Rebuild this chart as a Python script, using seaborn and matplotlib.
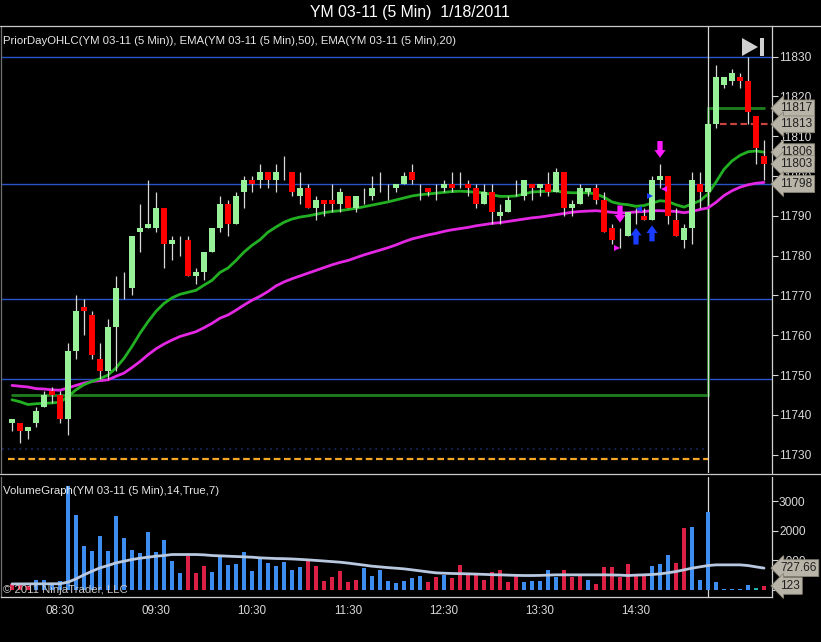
import numpy as np
import pandas as pd
import matplotlib
matplotlib.use("Agg")
import matplotlib.pyplot as plt
import matplotlib.transforms as mtransforms
from matplotlib.patches import Polygon, Rectangle
from matplotlib.lines import Line2D
import seaborn as sns

# ---------------- data ----------------
opens = [11738, 11738, 11736, 11738, 11742, 11746, 11745, 11739, 11756, 11767,
         11765, 11754, 11751, 11762, 11772, 11772, 11786, 11787, 11787, 11792,
         11783, 11784, 11784, 11775, 11776, 11781, 11787, 11793, 11788, 11796,
         11799, 11799, 11801, 11799, 11800, 11801, 11795, 11797, 11792, 11794,
         11794, 11793, 11795, 11792, 11795, 11795, 11797, 11796, 11797, 11798,
         11801, 11797, 11797, 11797, 11797, 11798, 11798, 11798, 11797, 11793,
         11796, 11790, 11791, 11797, 11795, 11798, 11797, 11798, 11796, 11801,
         11792, 11793, 11796, 11797, 11794, 11787, 11785, 11785, 11791, 11790,
         11789, 11799, 11800, 11789, 11784, 11787, 11798, 11796, 11813, 11823,
         11824, 11825, 11824, 11815, 11805]
highs = [11739, 11738, 11737, 11742, 11746, 11747, 11746, 11758, 11770, 11769,
         11766, 11758, 11764, 11775, 11776, 11785, 11793, 11799, 11796, 11792,
         11785, 11785, 11785, 11777, 11781, 11787, 11795, 11794, 11796, 11800,
         11800, 11803, 11801, 11803, 11805, 11801, 11801, 11798, 11795, 11794,
         11798, 11797, 11795, 11795, 11797, 11800, 11801, 11798, 11798, 11801,
         11803, 11798, 11797, 11798, 11799, 11801, 11801, 11799, 11798, 11798,
         11798, 11793, 11795, 11799, 11799, 11798, 11798, 11801, 11802, 11801,
         11794, 11798, 11797, 11798, 11796, 11788, 11787, 11791, 11792, 11792,
         11800, 11803, 11800, 11792, 11788, 11801, 11801, 11814, 11828, 11825,
         11827, 11826, 11830, 11815, 11809]
lows = [11736, 11733, 11734, 11737, 11742, 11743, 11738, 11735, 11754, 11760,
        11754, 11749, 11749, 11751, 11769, 11770, 11781, 11787, 11786, 11777,
        11779, 11780, 11775, 11773, 11774, 11781, 11786, 11785, 11788, 11792,
        11796, 11797, 11797, 11796, 11799, 11795, 11793, 11792, 11789, 11790,
        11791, 11791, 11792, 11791, 11793, 11794, 11796, 11794, 11796, 11798,
        11798, 11794, 11795, 11794, 11796, 11796, 11797, 11795, 11792, 11793,
        11788, 11788, 11791, 11795, 11794, 11794, 11795, 11795, 11796, 11790,
        11790, 11793, 11795, 11793, 11786, 11783, 11782, 11785, 11788, 11789,
        11789, 11797, 11788, 11785, 11782, 11783, 11792, 11795, 11812, 11822,
        11823, 11822, 11813, 11803, 11799]
closes = [11739, 11736, 11737, 11741, 11745, 11745, 11739, 11756, 11766, 11766,
          11755, 11751, 11762, 11772, 11772, 11785, 11787, 11788, 11792, 11783,
          11784, 11784, 11775, 11776, 11781, 11787, 11793, 11788, 11795, 11799,
          11798, 11801, 11799, 11801, 11800, 11796, 11797, 11792, 11794, 11793,
          11793, 11796, 11792, 11795, 11795, 11797, 11797, 11796, 11798, 11800,
          11799, 11797, 11796, 11797, 11798, 11797, 11798, 11797, 11793, 11796,
          11791, 11791, 11794, 11797, 11799, 11797, 11798, 11796, 11801, 11792,
          11793, 11797, 11797, 11794, 11786, 11784, 11785, 11791, 11791, 11789,
          11799, 11800, 11790, 11785, 11787, 11799, 11796, 11813, 11825, 11825,
          11826, 11824, 11816, 11807, 11803]

ema20 = [11743.8, 11743.3, 11742.6, 11742.8, 11742.9, 11743.0, 11743.2, 11744.6, 11746.3, 11747.6,
         11748.4, 11749.1, 11750.0, 11751.8, 11754.2, 11757.2, 11760.5, 11763.4, 11766.0, 11768.0,
         11769.4, 11770.3, 11770.8, 11771.3, 11772.6, 11773.8, 11775.8, 11776.9, 11778.8, 11780.9,
         11782.6, 11784.0, 11785.9, 11787.2, 11788.4, 11789.2, 11789.7, 11790.0, 11790.4, 11790.8,
         11791.1, 11791.3, 11791.6, 11791.9, 11792.3, 11792.7, 11793.1, 11793.5, 11794.0, 11794.5,
         11795.0, 11795.3, 11795.5, 11795.7, 11795.9, 11796.1, 11796.2, 11796.1, 11795.9, 11795.8,
         11795.3, 11794.9, 11794.9, 11795.0, 11795.5, 11796.0, 11796.1, 11796.2, 11796.3, 11795.9,
         11795.8, 11795.8, 11795.8, 11795.5, 11794.7, 11793.5, 11793.0, 11792.8, 11792.4, 11792.6,
         11793.2, 11793.8, 11793.6, 11792.8, 11792.2, 11793.0, 11793.8, 11795.5, 11798.5, 11801.7,
         11803.8, 11805.2, 11806.1, 11806.3, 11806.0]
ema50 = [11747.4, 11747.2, 11747.0, 11746.6, 11746.5, 11746.3, 11746.2, 11746.8, 11747.4, 11748.0,
         11748.4, 11748.6, 11748.8, 11749.7, 11750.5, 11751.9, 11753.4, 11755.1, 11756.6, 11757.8,
         11758.8, 11759.7, 11760.3, 11760.9, 11761.9, 11763.0, 11764.3, 11765.1, 11766.3, 11767.6,
         11768.8, 11769.8, 11771.0, 11772.4, 11773.4, 11774.2, 11774.9, 11775.6, 11776.3, 11777.0,
         11777.7, 11778.3, 11778.8, 11779.5, 11780.2, 11780.8, 11781.4, 11782.0, 11782.7, 11783.5,
         11784.2, 11784.7, 11785.2, 11785.6, 11786.1, 11786.5, 11786.8, 11787.1, 11787.5, 11787.8,
         11788.1, 11788.3, 11788.6, 11788.9, 11789.2, 11789.5, 11789.7, 11790.0, 11790.3, 11790.6,
         11790.9, 11791.1, 11791.2, 11791.3, 11791.1, 11790.9, 11790.7, 11790.8, 11791.0, 11791.1,
         11791.3, 11791.3, 11791.2, 11791.1, 11790.8, 11791.1, 11791.6, 11792.0, 11793.4, 11795.1,
         11796.3, 11797.2, 11797.8, 11798.2, 11798.4]

volume = [193, 227, 120, 340, 340, 159, 306, 3538, 2552, 1474,
          1327, 1837, 1327, 2517, 1746, 1361, 1236, 1973, 1270, 1701,
          987, 556, 1157, 556, 794, 612, 1123, 850, 873, 1293,
          646, 1066, 896, 800, 953, 680, 760, 987, 816, 306,
          420, 646, 272, 340, 726, 454, 680, 306, 215, 306,
          386, 476, 249, 420, 499, 386, 850, 510, 533, 340,
          612, 680, 272, 454, 272, 306, 306, 680, 420, 680,
          420, 533, 340, 193, 782, 760, 420, 873, 454, 499,
          816, 873, 1191, 907, 2087, 2121, 340, 2654, 249, 23,
          23, 23, 170, 45, 123]
vol_dir = ["d", "d", "d", "u", "u", "u", "u", "u", "u", "u",
           "u", "u", "u", "u", "u", "u", "u", "u", "u", "u",
           "u", "u", "d", "d", "d", "u", "u", "u", "u", "u",
           "u", "u", "u", "u", "u", "u", "u", "d", "d", "d",
           "d", "d", "d", "d", "u", "u", "u", "u", "u", "u",
           "u", "u", "d", "d", "u", "d", "d", "d", "d", "d",
           "d", "d", "d", "d", "u", "u", "u", "u", "u", "d",
           "d", "d", "u", "d", "d", "d", "d", "d", "d", "d",
           "u", "u", "u", "d", "d", "u", "u", "u", "u", "u",
           "u", "u", "u", "n", "d"]
vol_avg = [190, 190, 192, 193, 194, 195, 196, 250, 363, 499,
           624, 737, 816, 907, 964, 1021, 1066, 1100, 1134, 1157,
           1191, 1191, 1191, 1191, 1180, 1157, 1146, 1134, 1123, 1112,
           1100, 1078, 1066, 1055, 1050, 1040, 1025, 1009, 990, 970,
           950, 930, 900, 865, 830, 794, 770, 745, 725, 703,
           670, 635, 600, 567, 555, 545, 540, 533, 525, 515,
           505, 499, 490, 482, 476, 476, 480, 490, 499, 499,
           499, 499, 499, 499, 499, 495, 490, 476, 490, 499,
           510, 533, 570, 612, 669, 726, 771, 816, 839, 839,
           839, 839, 816, 771, 728]

time_labels = ["08:30", "09:30", "10:30", "11:30", "12:30", "13:30", "14:30"]
time_label_bars = [6, 18, 30, 42, 54, 66, 78]
session_end_bar = 87

prior_day_levels = [11830, 11798, 11769, 11749]
open_line_x = [0, 87, 87, 94]
open_line_y = [11745, 11745, 11817, 11817]
orange_level = 11729
navy_level = 11731.5
red_dash_level = 11813

price_ticks = [11730, 11740, 11750, 11760, 11770, 11780, 11790, 11800, 11810, 11820, 11830]
price_tags = [11817, 11813, 11806, 11803, 11798]
vol_ticks = [0, 1000, 2000, 3000]
vol_tags = [727.66, 123]
vol_tag_texts = ["727.66", "123"]

# signal arrows: (bar, tail, tip, colour)
arrow_bars = [76, 81, 78, 80]
arrow_tails = [11792.6, 11808.8, 11782.8, 11783.6]
arrow_tips = [11788.3, 11804.6, 11787.0, 11787.6]
arrow_colors = ["#ff19ff", "#ff19ff", "#1a3cff", "#1a3cff"]
tri_bars = [75.6, 81.5, 78.4, 79.75]
tri_prices = [11782.0, 11796.8, 11791.7, 11794.9]
tri_marks = [">", "<", "<", ">"]
tri_colors = ["#ff19ff", "#ff19ff", "#1a3cff", "#1a3cff"]

# ---------------- style ----------------
sns.set_theme(style="dark", rc={"axes.facecolor": "black", "figure.facecolor": "black",
                                "savefig.facecolor": "black", "axes.grid": False})
plt.rcParams["font.family"] = ["Liberation Sans", "DejaVu Sans"]

W, H = 821, 642
fig = plt.figure(figsize=(W / 100, H / 100), dpi=100, facecolor="black")

def fx(px):
    return px / W

def fy(py):
    return 1 - py / H

AX_L, AX_R = 1, 772
ax = fig.add_axes([fx(AX_L), fy(473), fx(AX_R - AX_L), (473 - 26) / H])
axv = fig.add_axes([fx(AX_L), fy(597), fx(AX_R - AX_L), (597 - 477) / H])
for a in (ax, axv):
    a.set_facecolor("black")
    a.set_xlim((AX_L - 12) / 8, (AX_R - 12) / 8)

ax.set_ylim(11725.4, 11837.7)
axv.set_ylim(-255, 3830)

idx = np.arange(len(opens))
o = np.array(opens, float)
h = np.array(highs, float)
l = np.array(lows, float)
c = np.array(closes, float)

# prior day OHLC lines
for lv in prior_day_levels:
    ax.axhline(lv, color="#2a55c8", lw=1.0, zorder=1)
ax.plot([-0.5, session_end_bar], [orange_level] * 2, color="#f5a623", lw=1.6,
        ls=(0, (3, 1.6)), zorder=1)
ax.plot([-1.3, session_end_bar], [navy_level] * 2, color="#1c2c66", lw=1.2,
        ls=(0, (1, 2.5)), zorder=1)
ax.plot(open_line_x, open_line_y, color="#1f7f1f", lw=2.0, zorder=2,
        solid_joinstyle="miter")
ax.plot([88.5, 95], [red_dash_level] * 2, color="#c8423f", lw=1.6,
        ls=(0, (3, 1.6)), zorder=2)

# session separator
ax.axvline(session_end_bar, color="#d8d8d8", lw=0.9, zorder=2)
axv.axvline(session_end_bar, color="#d8d8d8", lw=0.9, zorder=1)

# EMAs
df = pd.DataFrame({"bar": idx, "ema20": ema20, "ema50": ema50, "vavg": vol_avg})
sns.lineplot(data=df, x="bar", y="ema50", ax=ax, color="#e327e3", lw=2.0, zorder=3, legend=False)
sns.lineplot(data=df, x="bar", y="ema20", ax=ax, color="#22b022", lw=2.0, zorder=3, legend=False)

# candles
ax.vlines(idx, l, h, color="#d8d8d8", lw=0.9, zorder=4)
up = c > o
dn = c < o
ax.bar(idx[up], (c - o)[up], bottom=o[up], width=0.65, color="#98f098", lw=0, zorder=5)
ax.bar(idx[dn], (o - c)[dn], bottom=c[dn], width=0.65, color="#ff0000", lw=0, zorder=5)

# signal arrows
for b, t0, t1, col in zip(arrow_bars, arrow_tails, arrow_tips, arrow_colors):
    ax.annotate("", xy=(b, t1), xytext=(b, t0),
                arrowprops=dict(arrowstyle="simple,head_width=0.8,head_length=0.55,tail_width=0.38",
                                color=col, lw=0, mutation_scale=10, shrinkA=0, shrinkB=0),
                zorder=6)
for b, p, m, col in zip(tri_bars, tri_prices, tri_marks, tri_colors):
    ax.plot([b], [p], marker=m, color=col, ms=4.5, mew=0, zorder=6)

# price axis
ax.yaxis.tick_right()
ax.set_yticks(price_ticks)
ax.set_yticklabels([str(t) for t in price_ticks])
ax.set_xticks([])
ax.tick_params(axis="y", colors="#d8d8d8", labelcolor="#d8d8d8", labelsize=8.6,
               length=4, width=0.8, pad=1, direction="out")
ax.set_xlabel("")
ax.set_ylabel("")
ax.spines["top"].set_visible(False)
ax.spines["left"].set_color("#707070")
ax.spines["right"].set_color("#d0d0d0")
ax.spines["bottom"].set_visible(False)
for sp in ax.spines.values():
    sp.set_linewidth(0.9)

trp = mtransforms.blended_transform_factory(ax.transAxes, ax.transData)
for t in price_tags:
    ax.text(1.0 + 8 / 771, t, str(t), transform=trp, ha="left", va="center",
            fontsize=8.6, color="#202020", clip_on=False, zorder=10,
            bbox=dict(boxstyle="larrow,pad=0.2", fc="#b9b4a8", ec="#8a8578", lw=0.6))

# volume panel
col_map = {"u": "#3d8ef0", "d": "#dc1f45", "n": "#20b2aa"}
vcols = [col_map[d] for d in vol_dir]
axv.bar(idx, volume, width=0.38, color=vcols, lw=0, zorder=2)
sns.lineplot(data=df, x="bar", y="vavg", ax=axv, color="#b8c8e0", lw=2.0, zorder=3, legend=False)
axv.yaxis.tick_right()
axv.set_yticks(vol_ticks)
axv.set_yticklabels([str(t) for t in vol_ticks])
axv.set_xticks(time_label_bars)
axv.set_xticklabels(time_labels)
axv.tick_params(axis="both", colors="#d8d8d8", labelcolor="#d8d8d8", labelsize=8.4,
                length=4, width=0.8, pad=1.5, direction="out")
axv.tick_params(axis="y", labelsize=8.6, pad=1)
axv.set_xlabel("")
axv.set_ylabel("")
axv.spines["top"].set_visible(False)
axv.spines["left"].set_color("#707070")
axv.spines["right"].set_color("#d0d0d0")
axv.spines["bottom"].set_color("#d0d0d0")
for sp in axv.spines.values():
    sp.set_linewidth(0.9)
trv = mtransforms.blended_transform_factory(axv.transAxes, axv.transData)
for v, s in zip(vol_tags, vol_tag_texts):
    axv.text(1.0 + 8 / 771, v, s, transform=trv, ha="left", va="center",
             fontsize=8.6, color="#202020", clip_on=False, zorder=10,
             bbox=dict(boxstyle="larrow,pad=0.2", fc="#b9b4a8", ec="#8a8578", lw=0.6))

# texts
fig.text(0.4994, fy(13), "YM 03-11 (5 Min)  1/18/2011", ha="center", va="center",
         color="white", fontsize=11.4)
fig.text(fx(3), fy(41), "PriorDayOHLC(YM 03-11 (5 Min)), EMA(YM 03-11 (5 Min),50), EMA(YM 03-11 (5 Min),20)",
         ha="left", va="center", color="#e8e8e8", fontsize=8.2)
fig.text(fx(3), fy(491), "VolumeGraph(YM 03-11 (5 Min),14,True,7)", ha="left", va="center",
         color="#e8e8e8", fontsize=8.2)
fig.text(fx(3), fy(590), "\u00a9 2011 NinjaTrader, LLC", ha="left", va="center",
         color="#c8c8c8", fontsize=8.2, zorder=10)

# frame lines
fig.add_artist(Line2D([0, 1], [fy(25.5), fy(25.5)], color="#c8c8c8", lw=0.9))
fig.add_artist(Line2D([0, 1], [fy(473.5), fy(473.5)], color="#c8c8c8", lw=0.9))

# play/end icon
tri = Polygon([[fx(742), fy(38)], [fx(742), fy(56)], [fx(758), fy(47)]], closed=True,
              fc="#d0d0d0", ec="none", transform=fig.transFigure)
fig.add_artist(tri)
fig.add_artist(Rectangle((fx(760), fy(56)), fx(4), 18 / H, fc="#d0d0d0", ec="none",
                         transform=fig.transFigure))

fig.savefig("out.png", dpi=100, facecolor="black")
